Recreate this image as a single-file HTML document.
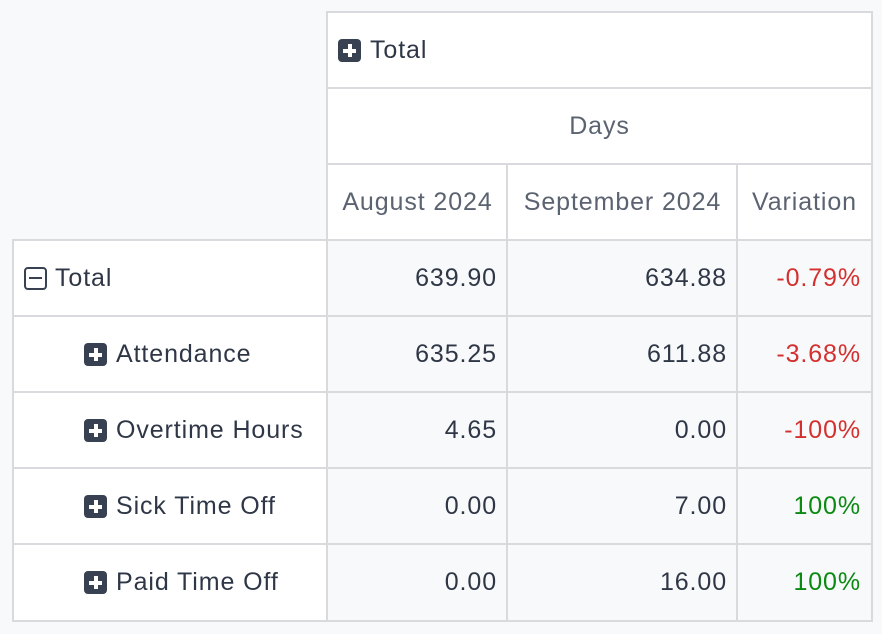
<!DOCTYPE html>
<html><head><style>
body{margin:0;width:882px;height:634px;background:#f8f9fa;font-family:"Liberation Sans",sans-serif;position:relative;overflow:hidden}
.c{position:absolute;box-sizing:border-box;border:2px solid #d8dadd;font-size:25px;letter-spacing:0.9px;display:flex;align-items:center;padding:0 10px;white-space:nowrap}
.w{background:#fff}
.g{background:#f8f9fa}
.h{color:#5b6270;justify-content:center}
.n{color:#2f3747;justify-content:flex-end}
.r{color:#d3302f;justify-content:flex-end}
.gr{color:#0b8a12;justify-content:flex-end}
.l{color:#2f3747}
.pi{display:inline-block;width:23px;height:23px;background:#374151;border-radius:4px;position:relative;margin-right:9px;flex:none}
.pi:before{content:"";position:absolute;left:5px;top:10px;width:13px;height:4px;background:#fff}
.pi:after{content:"";position:absolute;left:10px;top:5px;width:4px;height:13px;background:#fff}
.mi{display:inline-block;width:19px;height:19px;border:2px solid #374151;border-radius:4px;position:relative;margin-right:8px;flex:none}
.mi:before{content:"";position:absolute;left:3px;top:8px;width:13px;height:2px;background:#374151}
</style></head><body>
<div class="c w l" style="left:326px;top:11px;width:547px;height:79px"><span class="pi"></span>Total</div>
<div class="c w h" style="left:326px;top:87px;width:547px;height:79px">Days</div>
<div class="c w h" style="left:326px;top:163px;width:183px;height:79px">August 2024</div>
<div class="c w h" style="left:506px;top:163px;width:233px;height:79px">September 2024</div>
<div class="c w h" style="left:736px;top:163px;width:137px;height:79px">Variation</div>

<div class="c w l" style="left:12px;top:239px;width:317px;height:79px"><span class="mi"></span>Total</div>
<div class="c g n" style="left:326px;top:239px;width:183px;height:79px">639.90</div>
<div class="c g n" style="left:506px;top:239px;width:233px;height:79px">634.88</div>
<div class="c g r" style="left:736px;top:239px;width:137px;height:79px">-0.79%</div>

<div class="c w l" style="left:12px;top:315px;width:317px;height:79px;padding-left:70px"><span class="pi"></span>Attendance</div>
<div class="c g n" style="left:326px;top:315px;width:183px;height:79px">635.25</div>
<div class="c g n" style="left:506px;top:315px;width:233px;height:79px">611.88</div>
<div class="c g r" style="left:736px;top:315px;width:137px;height:79px">-3.68%</div>

<div class="c w l" style="left:12px;top:391px;width:317px;height:79px;padding-left:70px"><span class="pi"></span>Overtime Hours</div>
<div class="c g n" style="left:326px;top:391px;width:183px;height:79px">4.65</div>
<div class="c g n" style="left:506px;top:391px;width:233px;height:79px">0.00</div>
<div class="c g r" style="left:736px;top:391px;width:137px;height:79px">-100%</div>

<div class="c w l" style="left:12px;top:467px;width:317px;height:79px;padding-left:70px"><span class="pi"></span>Sick Time Off</div>
<div class="c g n" style="left:326px;top:467px;width:183px;height:79px">0.00</div>
<div class="c g n" style="left:506px;top:467px;width:233px;height:79px">7.00</div>
<div class="c g gr" style="left:736px;top:467px;width:137px;height:79px">100%</div>

<div class="c w l" style="left:12px;top:543px;width:317px;height:79px;padding-left:70px"><span class="pi"></span>Paid Time Off</div>
<div class="c g n" style="left:326px;top:543px;width:183px;height:79px">0.00</div>
<div class="c g n" style="left:506px;top:543px;width:233px;height:79px">16.00</div>
<div class="c g gr" style="left:736px;top:543px;width:137px;height:79px">100%</div>
</body></html>
